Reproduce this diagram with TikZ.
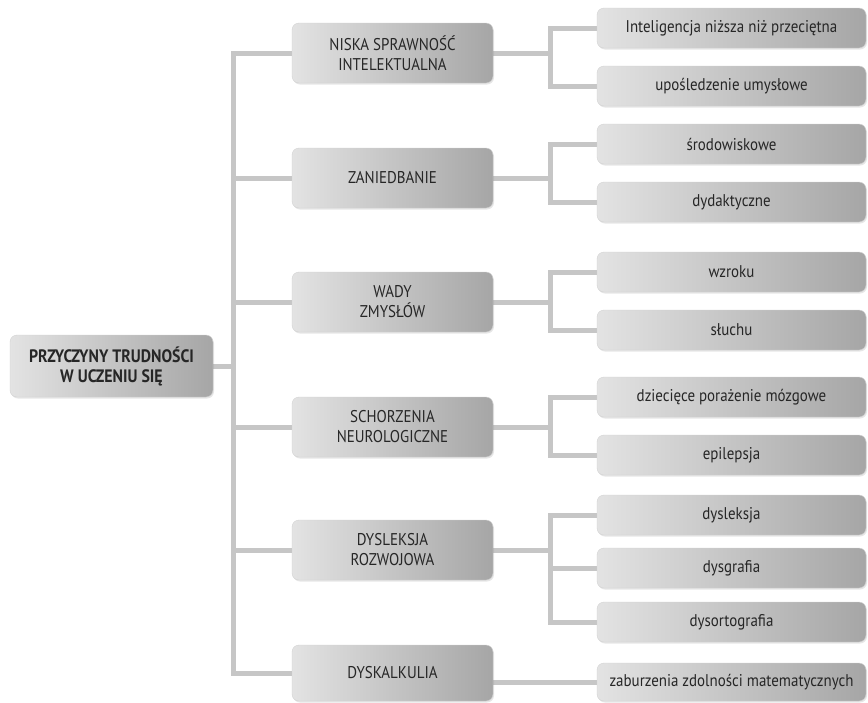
\documentclass[tikz,border=0pt]{standalone}
\usepackage{fontspec}
\setmainfont[FakeStretch=0.88]{PT Sans}
\usetikzlibrary{shadows,backgrounds}
\tikzset{
	box/.style={draw=gray!35, rounded corners=7pt, left color=gray!22, right color=gray!70,
		text=black!85, align=center, inner sep=0pt,
		drop shadow={opacity=0.2, shadow xshift=1pt, shadow yshift=-1.5pt}},
	rootbox/.style={box, minimum width=203pt, minimum height=62pt, font=\fontsize{18}{20}\selectfont\bfseries},
	causebox/.style={box, minimum width=201pt, minimum height=60pt, font=\fontsize{17}{20}\selectfont},
	kindbox/.style={box, minimum width=269pt, minimum height=40pt, font=\fontsize{17}{19}\selectfont},
	link/.style={draw=gray!45, line width=5pt},
}
\begin{document}
\begin{tikzpicture}[x = 1pt, y = -1pt]
	\useasboundingbox (0, 0) rectangle (868, 702);
	% root
	\node[rootbox] (root) at (111.5, 366) {PRZYCZYNY TRUDNOŚCI\\W UCZENIU SIĘ};
	% causes
	\node[causebox] (niska)       at (392.5, 53)  {NISKA SPRAWNOŚĆ\\INTELEKTUALNA};
	\node[causebox] (zaniedbanie) at (392.5, 178) {ZANIEDBANIE};
	\node[causebox] (wady)        at (392.5, 302) {WADY\\ZMYSŁÓW};
	\node[causebox] (schorzenia)  at (392.5, 427) {SCHORZENIA\\NEUROLOGICZNE};
	\node[causebox] (rozwojowa)   at (392.5, 550) {DYSLEKSJA\\ROZWOJOWA};
	\node[causebox, minimum height = 56pt] (dyskalkulia) at (392.5, 673) {DYSKALKULIA};
	% kinds
	\node[kindbox] (inteligencja)  at (731.5, 28)  {Inteligencja niższa niż przeciętna};
	\node[kindbox] (uposledzenie)  at (731.5, 86)  {upośledzenie umysłowe};
	\node[kindbox] (srodowiskowe)  at (731.5, 144) {środowiskowe};
	\node[kindbox] (dydaktyczne)   at (731.5, 202) {dydaktyczne};
	\node[kindbox] (wzroku)        at (731.5, 272) {wzroku};
	\node[kindbox] (sluchu)        at (731.5, 330) {słuchu};
	\node[kindbox] (mozgowe)       at (731.5, 397) {dziecięce porażenie mózgowe};
	\node[kindbox] (epilepsja)     at (731.5, 455) {epilepsja};
	\node[kindbox] (dysleksja)     at (731.5, 515) {dysleksja};
	\node[kindbox] (dysgrafia)     at (731.5, 568) {dysgrafia};
	\node[kindbox] (dysortografia) at (731.5, 622) {dysortografia};
	\node[kindbox, minimum height = 38pt] (zaburzenia) at (731.5, 682) {zaburzenia zdolności matematycznych};
	% x of the vertical lines
	\coordinate (trunk) at (233, 0);
	\coordinate (fork)  at (550, 0);
	\begin{scope}[on background layer]
		% trunk
		\draw[link] (root.east) -- (trunk |- root.east);
		\draw[link] (niska.west) -| (trunk |- dyskalkulia.west) -- (dyskalkulia.west);
		\foreach \cause in {zaniedbanie, wady, schorzenia, rozwojowa}
			\draw[link] (\cause.west) -- (trunk |- \cause.west);
		% forks
		\draw[link] (niska.east) -- (fork |- niska.east);
		\draw[link] (inteligencja.west) -| (fork |- uposledzenie.west) -- (uposledzenie.west);
		\draw[link] (zaniedbanie.east) -- (fork |- zaniedbanie.east);
		\draw[link] (srodowiskowe.west) -| (fork |- dydaktyczne.west) -- (dydaktyczne.west);
		\draw[link] (wady.east) -- (fork |- wady.east);
		\draw[link] (wzroku.west) -| (fork |- sluchu.west) -- (sluchu.west);
		\draw[link] (schorzenia.east) -- (fork |- schorzenia.east);
		\draw[link] (mozgowe.west) -| (fork |- epilepsja.west) -- (epilepsja.west);
		\draw[link] (rozwojowa.east) -- (fork |- rozwojowa.east);
		\draw[link] (dysleksja.west) -| (fork |- dysortografia.west) -- (dysortografia.west);
		\draw[link] (dysgrafia.west) -- (fork |- dysgrafia.west);
		\draw[link] (dyskalkulia.east |- zaburzenia.west) -- (zaburzenia.west);
	\end{scope}
\end{tikzpicture}
\end{document}
